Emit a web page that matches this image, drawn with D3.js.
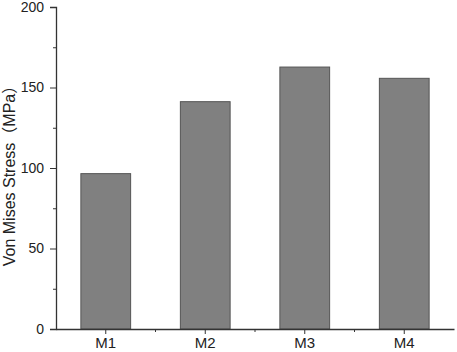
<!DOCTYPE html>
<html>
<head>
<meta charset="utf-8">
<script src="https://cdn.jsdelivr.net/npm/d3@7"></script>
<style>
	body { margin: 0; background: #fff; }
	text { font-family: "Liberation Sans", Arial, "Noto Sans CJK SC", sans-serif; fill: #222; }
</style>
</head>
<body>
<svg id="chart" width="457" height="352"></svg>
<script>
var categories = ["M1", "M2", "M3", "M4"];
var stress = [96.5, 141.2, 162.7, 155.7];
var yTicks = [0, 50, 100, 150, 200];
var yMinorTicks = [25, 75, 125, 175];

var margin = {top: 7, right: 3, bottom: 23, left: 56};
var width = 457 - margin.left - margin.right;
var height = 352 - margin.top - margin.bottom;

var svg = d3.select("#chart");
var g = svg.append("g").attr("transform", "translate(" + margin.left + "," + margin.top + ")");

var x = d3.scaleBand().domain(categories).range([0, width]).paddingInner(0.5).paddingOuter(0.25);
var y = d3.scaleLinear().domain([0, 200]).range([height, 0]);

g.selectAll("rect.bar")
	.data(stress)
	.enter().append("rect")
	.attr("class", "bar")
	.attr("x", function(d, i) { return x(categories[i]); })
	.attr("y", function(d) { return y(d); })
	.attr("width", x.bandwidth())
	.attr("height", function(d) { return height - y(d); })
	.attr("fill", "#808080")
	.attr("stroke", "#555")
	.attr("stroke-width", 1);

// y axis, major + minor ticks
g.append("g")
	.attr("class", "y-axis")
	.call(d3.axisLeft(y).tickValues(yTicks).tickSize(6).tickPadding(6).tickFormat(d3.format("d")));
g.append("g")
	.call(d3.axisLeft(y).tickValues(yMinorTicks).tickSize(3).tickFormat(""))
	.select(".domain").remove();

// x axis
g.append("g")
	.attr("class", "x-axis")
	.attr("transform", "translate(0," + height + ")")
	.call(d3.axisBottom(x).tickSize(5).tickPadding(3).tickSizeOuter(0));

// small ticks between the categories
var gap = (x.step() - x.bandwidth()) / 2;
g.append("g")
	.attr("transform", "translate(0," + height + ")")
	.selectAll("line")
	.data(categories.slice(1))
	.enter().append("line")
	.attr("x1", function(d) { return x(d) - gap; })
	.attr("x2", function(d) { return x(d) - gap; })
	.attr("y1", 0)
	.attr("y2", 3)
	.attr("stroke", "#333");

svg.selectAll(".domain").attr("stroke", "#333").attr("stroke-width", 1.3);
svg.selectAll(".tick line").attr("stroke", "#333");
svg.selectAll(".y-axis .tick text").style("font-size", "14px").attr("fill", "#222");
svg.selectAll(".x-axis .tick text").style("font-size", "15px").attr("fill", "#222");

svg.append("text")
	.attr("transform", "translate(15,172) rotate(-90)")
	.attr("text-anchor", "middle")
	.style("font-size", "16px")
	.text("Von Mises Stress（MPa）");
</script>
</body>
</html>
